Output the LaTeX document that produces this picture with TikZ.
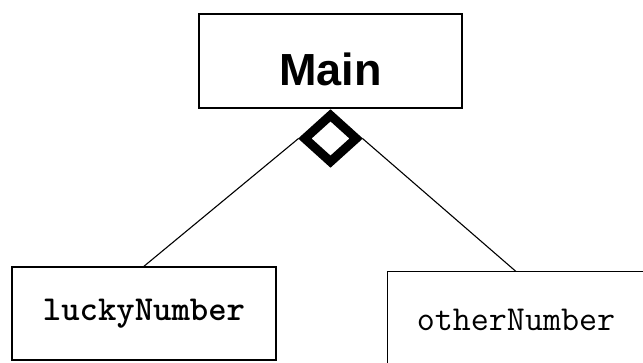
\documentclass[tikz,border=0pt]{standalone}
\usepackage{fontspec}
\newfontfamily\helvfont{Liberation Sans}
\usetikzlibrary{shapes.geometric, positioning}

\begin{document}
\begin{tikzpicture}[x=1pt, y=1pt,
    classbox/.style={draw, rectangle, inner sep=0pt},
    link/.style={draw, line width=1.1pt}]
    \useasboundingbox (0,0) rectangle (643,-363);
    \clip (0,0) rectangle (643,-363);
    \node[classbox, line width=2pt, minimum width=263pt, minimum height=94pt,
          text height=50pt, text depth=0pt,
          font=\helvfont\bfseries\fontsize{45}{54}\selectfont] (main) at (330.5,-61) {Main};
    \node[diamond, draw, line width=9pt, inner sep=0pt, minimum width=55pt, minimum height=50pt,
          below=0pt of main] (agg) {};
    \node[classbox, line width=1.5pt, minimum width=264pt, minimum height=93pt,
          font=\ttfamily\bfseries\fontsize{35}{40}\selectfont] (lucky) at (144,-313.5) {luckyNumber};
    \node[classbox, line width=1pt, minimum width=258pt, minimum height=96pt,
          font=\ttfamily\fontsize{35}{40}\selectfont] (other) at (516,-320) {otherNumber};
    \draw[link] (lucky.north) -- (agg.west);
    \draw[link] (other.north) -- (agg.east);
\end{tikzpicture}
\end{document}
